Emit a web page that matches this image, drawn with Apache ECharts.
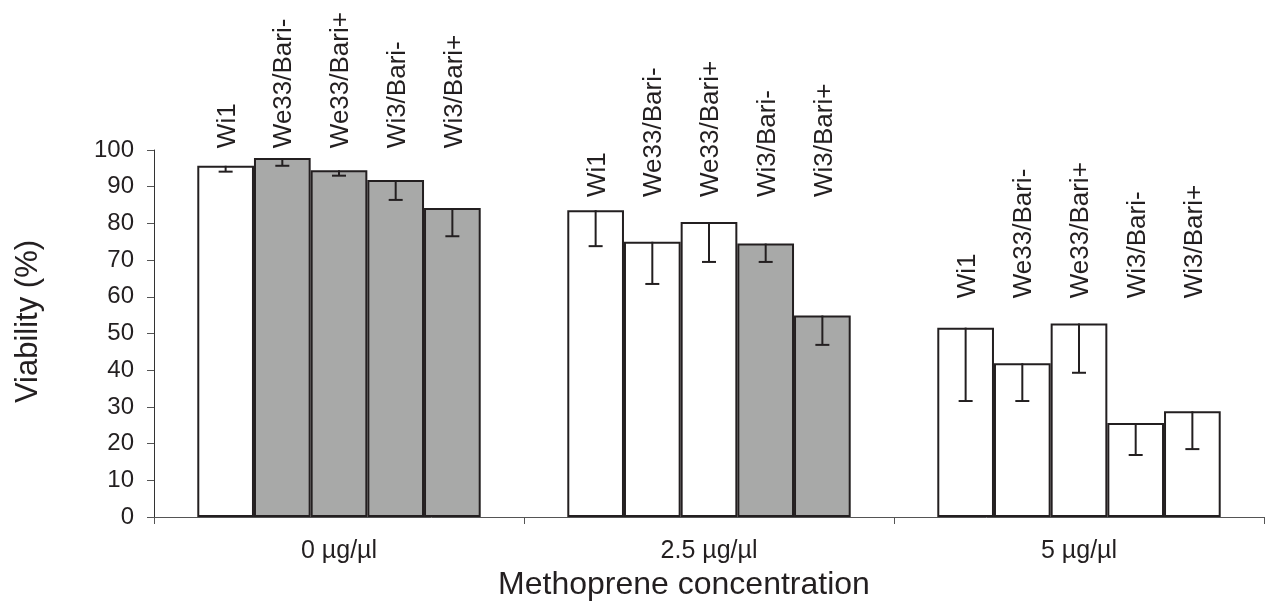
<!DOCTYPE html>
<html>
<head>
<meta charset="utf-8">
<script src="https://cdn.jsdelivr.net/npm/echarts@6/dist/echarts.min.js"></script>
<style>
html,body{margin:0;padding:0;background:#fff;}
#chart{width:1268px;height:612px;}
</style>
</head>
<body>
<div id="chart"></div>
<script>
// ---- data ----
const categories = ['0 µg/µl', '2.5 µg/µl', '5 µg/µl'];
const strains = ['Wi1', 'We33/Bari-', 'We33/Bari+', 'Wi3/Bari-', 'Wi3/Bari+'];
// viability (%) per strain, one value per concentration
const viabilityWi1      = [95.7, 83.6, 51.6];
const viabilityWe33Neg  = [97.8, 75.0, 41.9];
const viabilityWe33Pos  = [94.5, 80.4, 52.7];
const viabilityWi3Neg   = [91.8, 74.5, 25.6];
const viabilityWi3Pos   = [84.2, 54.9, 28.8];
// error (downward) per strain, per concentration
const errorWi1     = [1.6, 9.8, 20.0];
const errorWe33Neg = [2.1, 11.5, 10.3];
const errorWe33Pos = [1.5, 10.9, 13.4];
const errorWi3Neg  = [5.4, 5.0, 8.7];
const errorWi3Pos  = [7.7, 8.0, 10.3];
// shaded (grey) bars: per strain, per concentration
const shadedWi1     = [0, 0, 0];
const shadedWe33Neg = [1, 0, 0];
const shadedWe33Pos = [1, 0, 0];
const shadedWi3Neg  = [1, 1, 0];
const shadedWi3Pos  = [1, 1, 0];
// level (in %) where the rotated strain labels start, per concentration
const labelLevel = [100.5, 87.2, 59.6];
const yTicks = [0, 10, 20, 30, 40, 50, 60, 70, 80, 90, 100];

const viability = [viabilityWi1, viabilityWe33Neg, viabilityWe33Pos, viabilityWi3Neg, viabilityWi3Pos];
const errors = [errorWi1, errorWe33Neg, errorWe33Pos, errorWi3Neg, errorWi3Pos];
const shaded = [shadedWi1, shadedWe33Neg, shadedWe33Pos, shadedWi3Neg, shadedWi3Pos];

// ---- style ----
const FONT = '"Liberation Sans", Arial, sans-serif';
const INK = '#231f20';
const GREY = '#a8a9a8';
const CAT_GAP = 0.234;
const nS = strains.length;

const barSeries = strains.map((name, s) => ({
  name: name,
  type: 'bar',
  barGap: '0%',
  barCategoryGap: (CAT_GAP * 100) + '%',
  data: viability[s].map((v, c) => ({
    value: v,
    itemStyle: { color: shaded[s][c] ? GREY : '#ffffff' }
  })),
  itemStyle: { borderColor: INK, borderWidth: 2 },
  emphasis: { disabled: true },
  z: 2
}));

function barCenterX(api, c, s) {
  const center = api.coord([c, 0])[0];
  const band = api.size([1, 0])[0];
  const bw = band * (1 - CAT_GAP) / nS;
  return center + (s - (nS - 1) / 2) * bw;
}

const errData = [];
const labelData = [];
for (let s = 0; s < nS; s++) {
  for (let c = 0; c < categories.length; c++) {
    errData.push([c, s, viability[s][c], viability[s][c] - errors[s][c]]);
    labelData.push([c, s, labelLevel[c]]);
  }
}

const errorSeries = {
  type: 'custom',
  z: 5,
  silent: true,
  data: errData,
  encode: { x: 0, y: 2 },
  renderItem: function (params, api) {
    const c = api.value(0), s = api.value(1);
    const x = barCenterX(api, c, s);
    const yTop = api.coord([c, api.value(2)])[1];
    const yLow = api.coord([c, api.value(3)])[1];
    const cap = 7;
    const st = { stroke: INK, lineWidth: 2 };
    return {
      type: 'group',
      children: [
        { type: 'line', shape: { x1: x, y1: yTop, x2: x, y2: yLow }, style: st },
        { type: 'line', shape: { x1: x - cap, y1: yLow, x2: x + cap, y2: yLow }, style: st }
      ]
    };
  }
};

const labelSeries = {
  type: 'custom',
  z: 5,
  silent: true,
  data: labelData,
  encode: { x: 0, y: 2 },
  renderItem: function (params, api) {
    const c = api.value(0), s = api.value(1);
    const x = barCenterX(api, c, s) + 2;
    const y = api.coord([c, api.value(2)])[1];
    return {
      type: 'text',
      x: x, y: y,
      rotation: Math.PI / 2,
      style: {
        text: strains[s],
        fill: INK,
        fontSize: 26,
        fontFamily: FONT,
        align: 'left',
        verticalAlign: 'middle'
      }
    };
  }
};

const chart = echarts.init(document.getElementById('chart'), null, { renderer: 'canvas' });
chart.setOption({
  animation: false,
  backgroundColor: '#ffffff',
  grid: { left: 154, right: 4, top: 150, bottom: 95, containLabel: false },
  xAxis: {
    type: 'category',
    data: categories,
    name: 'Methoprene concentration',
    nameLocation: 'middle',
    nameGap: 50,
    nameTextStyle: { fontFamily: FONT, fontSize: 32, color: INK, padding: [0, 50, 0, 0] },
    axisLine: { lineStyle: { color: '#555', width: 1 } },
    axisTick: { show: true, alignWithLabel: false, length: 7, lineStyle: { color: '#555' } },
    axisLabel: { margin: 22, fontFamily: FONT, fontSize: 25, color: INK },
    splitLine: { show: false }
  },
  yAxis: {
    type: 'value',
    min: yTicks[0],
    max: yTicks[yTicks.length - 1],
    interval: yTicks[1] - yTicks[0],
    name: 'Viability (%)',
    nameLocation: 'middle',
    nameGap: 110,
    nameRotate: 90,
    nameTextStyle: { fontFamily: FONT, fontSize: 31, color: INK, padding: [0, 0, 0, 24] },
    axisLine: { show: true, lineStyle: { color: '#333', width: 1 } },
    axisTick: { show: true, length: 7, lineStyle: { color: '#555' } },
    axisLabel: { margin: 20, fontFamily: FONT, fontSize: 24, color: INK },
    splitLine: { show: false }
  },
  series: barSeries.concat([errorSeries, labelSeries])
});
</script>
</body>
</html>
